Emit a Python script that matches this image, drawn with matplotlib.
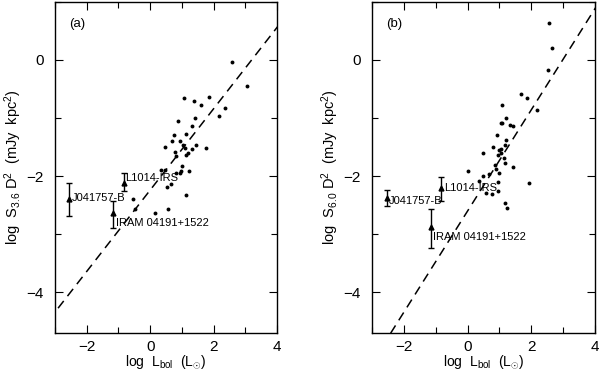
import numpy as np
import matplotlib
matplotlib.use("Agg")
import matplotlib.pyplot as plt
from matplotlib.ticker import MultipleLocator

# panel (a): log Lbol vs log S3.6 D^2
lbol_a = [2.59, 3.05, 1.07, 1.39, 1.84, 1.59, 2.36, 2.16, 0.89, 1.40, 1.31, 0.76, 1.14,
          0.68, 0.95, 0.46, 1.03, 1.43, 1.32, 1.10, 1.20, 1.13, 0.77, 0.82, 1.76, 0.99,
          0.35, 0.47, 0.83, 0.93, 0.97, 1.21, 0.65, 0.54, 1.13, -0.54, -0.47, 0.15, 0.57]
s36_a = [-0.03, -0.45, -0.66, -0.70, -0.63, -0.77, -0.82, -0.96, -1.05, -1.00, -1.14, -1.30, -1.28,
         -1.40, -1.40, -1.49, -1.46, -1.47, -1.54, -1.52, -1.60, -1.63, -1.58, -1.66, -1.52, -1.83,
         -1.89, -1.89, -1.94, -1.94, -1.92, -1.92, -2.14, -2.18, -2.32, -2.40, -2.57, -2.63, -2.57]

# panel (b): log Lbol vs log S6.0 D^2
lbol_b = [2.55, 2.65, 2.51, 1.68, 1.87, 2.19, 1.09, 1.20, 1.04, 1.08, 1.34, 1.42, 0.92,
          1.21, 0.79, 1.17, 1.04, 1.00, 1.05, 0.95, 1.13, 0.49, 1.17, 1.43, 0.86, 0.90,
          0.01, 0.68, 1.00, 0.49, 0.37, 0.97, 0.57, 0.78, 0.97, 1.94, 1.19, 1.25]
s60_b = [0.63, 0.20, -0.17, -0.59, -0.65, -0.86, -0.77, -1.00, -1.09, -1.09, -1.12, -1.13, -1.30,
         -1.38, -1.49, -1.47, -1.54, -1.55, -1.61, -1.64, -1.68, -1.61, -1.77, -1.85, -1.80, -1.88,
         -1.91, -1.96, -1.95, -2.00, -2.09, -2.10, -2.29, -2.31, -2.26, -2.11, -2.47, -2.54]

# VeLLO sources: name, lbol, value, err low, err high
names = ["J041757-B", "L1014-IRS", "IRAM 04191+1522"]
src_lbol_a = [-2.55, -0.83, -1.17]
src_val_a = [-2.39, -2.12, -2.64]
src_lo_a = [-2.68, -2.26, -2.89]
src_hi_a = [-2.12, -1.94, -2.42]
lab_a = [(-2.48, -2.38), (-0.78, -2.04), (-1.09, -2.80)]

src_lbol_b = [-2.53, -0.83, -1.15]
src_val_b = [-2.38, -2.21, -2.88]
src_lo_b = [-2.52, -2.43, -3.23]
src_hi_b = [-2.24, -2.01, -2.56]
lab_b = [(-2.47, -2.43), (-0.74, -2.20), (-1.09, -3.05)]

# fitted relations (slope, intercept)
fit_a = (0.70, -2.24)
fit_b = (0.871, -2.60)

plt.rcParams['font.family'] = ['Liberation Sans', 'DejaVu Sans']
plt.rcParams['mathtext.fontset'] = 'custom'
plt.rcParams['mathtext.rm'] = 'Liberation Sans'
plt.rcParams['mathtext.it'] = 'Liberation Sans'

fig = plt.figure(figsize=(6, 3.71), dpi=100)
ax1 = fig.add_axes([0.0917, 0.1024, 0.37, 0.8926])
ax2 = fig.add_axes([0.62, 0.1024, 0.3717, 0.8926])


def draw(ax, x, y, sx, sv, slo, shi, labpos, fit, tag, ylab):
    ax.plot(x, y, 'o', color='black', ms=2.8, mec='none')
    sv = np.array(sv)
    yerr = [sv - np.array(slo), np.array(shi) - sv]
    ax.errorbar(sx, sv, yerr=yerr, fmt='^', color='black', ms=3.5,
                elinewidth=1.0, capsize=2.5, capthick=1.0)
    for n, (tx, ty) in zip(names, labpos):
        ax.text(tx, ty, n, fontsize=8, va='center', ha='left')
    xx = np.array([-3.2, 4.2])
    ax.plot(xx, fit[0] * xx + fit[1], color='black', ls=(0, (6, 4)), lw=1.1)
    ax.set_xlim(-3, 4)
    ax.set_ylim(-4.7, 1.0)
    ax.xaxis.set_minor_locator(MultipleLocator(1))
    ax.yaxis.set_minor_locator(MultipleLocator(1))
    ax.tick_params(which='both', direction='in', top=True, right=True, labelsize=11)
    ax.tick_params(which='major', length=6, width=0.8)
    ax.tick_params(which='minor', length=4, width=0.8)
    ax.tick_params(axis='x', pad=5)
    ax.tick_params(axis='y', pad=8)
    ax.set_xticks([-2, 0, 2, 4])
    ax.set_xticklabels(['\u22122', '0', '2', '4'])
    ax.set_yticks([-4, -2, 0])
    ax.set_yticklabels(['\u22124', '\u22122', '0'])
    ax.set_xlabel(r'log  L$_{\rm bol}$  (L$_{\odot}$)', fontsize=10, labelpad=-1)
    ax.set_ylabel(ylab, fontsize=10.5, labelpad=2)
    ax.text(0.065, 0.95, tag, transform=ax.transAxes, fontsize=9.5, va='top')
    for s in ax.spines.values():
        s.set_linewidth(1.0)


draw(ax1, lbol_a, s36_a, src_lbol_a, src_val_a, src_lo_a, src_hi_a, lab_a, fit_a, '(a)',
     r'log  S$_{3.6}$ D$^2$  (mJy  kpc$^2$)')
draw(ax2, lbol_b, s60_b, src_lbol_b, src_val_b, src_lo_b, src_hi_b, lab_b, fit_b, '(b)',
     r'log  S$_{6.0}$ D$^2$  (mJy  kpc$^2$)')

fig.savefig('out.png', dpi=100)
